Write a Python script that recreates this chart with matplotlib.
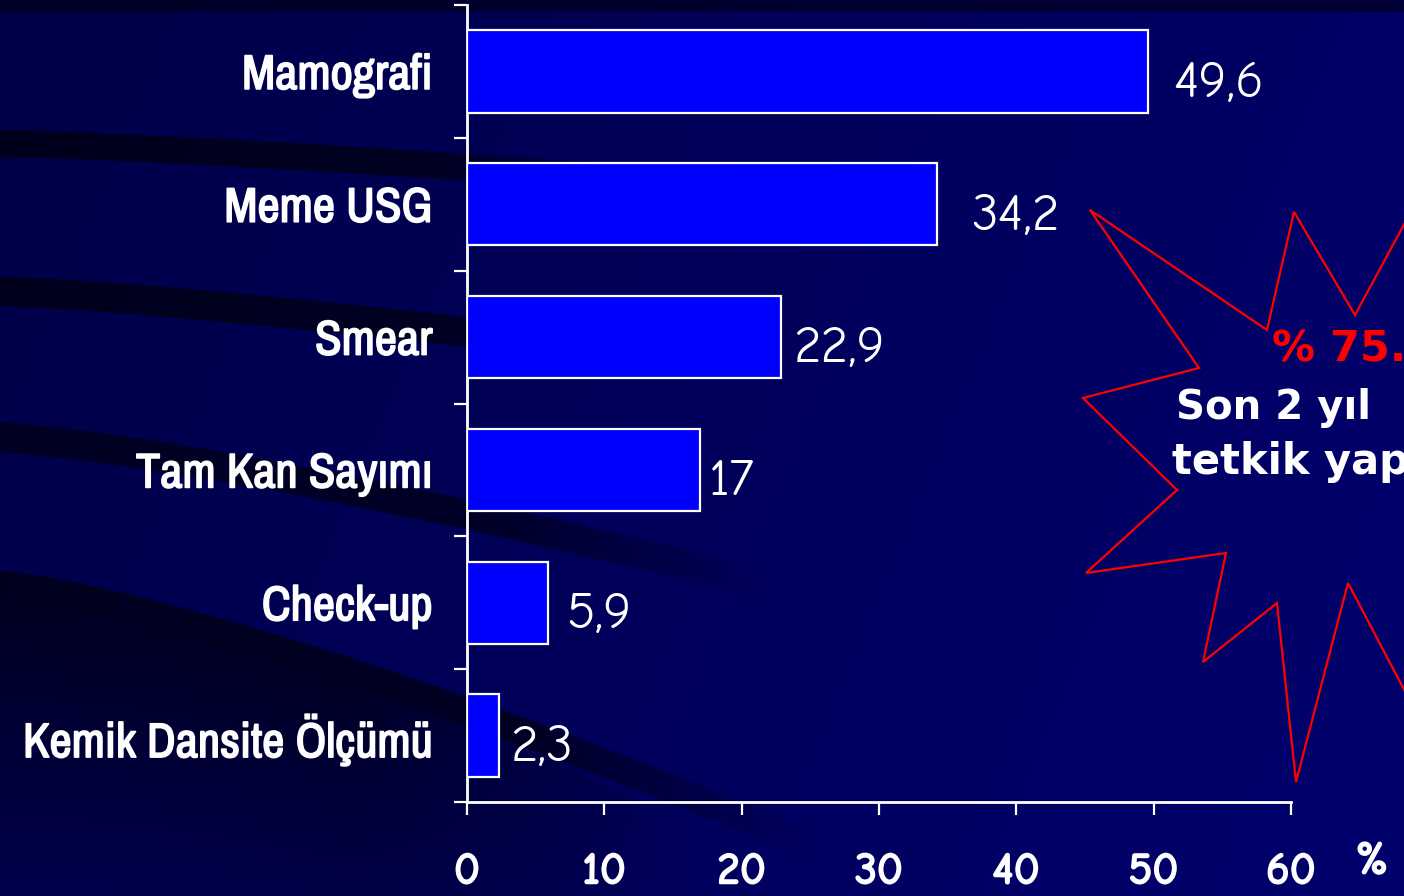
import numpy as np
import matplotlib
matplotlib.use("Agg")
import matplotlib.pyplot as plt
import matplotlib.patheffects as pe
from matplotlib.patches import Polygon

# survey results: share of women who had each test (%)
categories = ["Mamografi", "Meme USG", "Smear", "Tam Kan Sayımı",
              "Check-up", "Kemik Dansite Ölçümü"]
values = [49.6, 34.2, 22.9, 17, 5.9, 2.3]
xticks = [0, 10, 20, 30, 40, 50, 60]

# horizontal nudge of each value label, in points
label_nudge = [18, 25, 9, 6, 13, 9]

# burst outline, figure pixels (x right, y down)
star_px = [(1090, 210), (1267, 330), (1294, 212), (1355, 315), (1420, 195),
           (1440, 450), (1420, 720), (1348, 583), (1296, 782), (1277, 603),
           (1203, 662), (1226, 553), (1086, 573), (1177, 490), (1083, 398),
           (1199, 368)]

W, H = 1404, 896
narrow = ["Archivo Narrow", "Roboto Condensed", "DejaVu Sans"]
round_font = ["Comic Neue", "Open Sans", "DejaVu Sans"]
heavy = ["DejaVu Sans"]


def fatten(w):
    # thicken glyphs a little, the fonts here have no bold face
    return [pe.withStroke(linewidth=w, foreground="white")]


fig = plt.figure(figsize=(W / 100, H / 100), dpi=100)

# background: navy gradient with dark swooshes
X, Y = np.meshgrid(np.arange(W), np.arange(H))
base = 72 + 30 * (X / W) + 8 * (Y / H)
dark = np.zeros_like(base, dtype=float)


def swoosh(y0, y1, thick, fade_at, fade_len, depth):
    c = y0 + (y1 - y0) * (X / 470.0) ** 1.3
    m = np.clip(thick / 2 - np.abs(Y - c) + 1, 0, 1)
    f = np.clip(1 - (X - fade_at) / fade_len, 0, 1)
    return m * f * depth


dark = np.maximum(dark, np.where(Y < 12, 0.45, 0))
dark = np.maximum(dark, swoosh(143, 167, 26, 420, 250, 0.6))
dark = np.maximum(dark, swoosh(291, 332, 29, 440, 250, 0.6))
dark = np.maximum(dark, swoosh(437, 515, 29, 480, 300, 0.55))
dark = np.maximum(dark, swoosh(585, 713, 29, 520, 300, 0.6))
# wide dark wedge running toward the lower middle
ctop = 600 + 128 * (X / 470.0) ** 1.4
below = Y - ctop
wedge = np.where(below > 0, np.clip(1 - below / 320, 0, 1), 0)
wedge *= np.clip(1 - (X - 350) / 350, 0, 1)
dark = np.maximum(dark, wedge * 0.55)
blue = base * (1 - dark)
img = np.zeros((H, W, 3))
img[..., 2] = blue / 255.0

bg = fig.add_axes([0, 0, 1, 1], zorder=-1)
bg.imshow(img, aspect="auto", interpolation="bilinear")
bg.axis("off")

ax = fig.add_axes([467 / W, 1 - 802 / H, (1291 - 467) / W, (802 - 5) / H])
ax.patch.set_alpha(0)

y = np.arange(len(categories))
ax.barh(y, values, height=0.62, color="#0000FF", edgecolor="white",
        linewidth=1.6, zorder=3)
ax.set_xlim(0, 60)
ax.set_ylim(len(categories) - 0.5, -0.5)

for sp in ["top", "right"]:
    ax.spines[sp].set_visible(False)
for sp in ["left", "bottom"]:
    ax.spines[sp].set_color("white")
    ax.spines[sp].set_linewidth(2)

ax.set_yticks(np.arange(-0.5, len(categories)), labels=[])
ax.set_yticks(y, labels=categories, minor=True)
ax.tick_params(axis="y", which="major", direction="out", length=9.5,
               width=1.6, color="white")
ax.tick_params(axis="y", which="minor", length=0, pad=25, labelcolor="white")
for lab in ax.get_yticklabels(minor=True):
    lab.set_fontfamily(narrow)
    lab.set_fontsize(35)
    lab.set_path_effects(fatten(1.2))

ax.set_xticks(xticks, labels=[str(t) for t in xticks])
ax.tick_params(axis="x", direction="out", length=9.5, width=1.6,
               color="white", labelcolor="white", pad=28)
for lab in ax.get_xticklabels():
    lab.set_fontfamily(round_font)
    lab.set_fontsize(31)
    lab.set_path_effects(fatten(1.7))

for i, v in enumerate(values):
    txt = f"{v:g}".replace(".", ",")
    ax.annotate(txt, xy=(v, i), xytext=(label_nudge[i], -9),
                textcoords="offset points", ha="left", va="center",
                color="white", fontsize=38, family=round_font)

fig.text(1372 / W, 1 - 862 / H, "%", color="white", fontsize=32,
         family=round_font, ha="center", va="center",
         path_effects=fatten(1.7))

star = Polygon([(x / W, 1 - yy / H) for x, yy in star_px], closed=True,
               fill=False, edgecolor="#FF0000", linewidth=1.6,
               transform=fig.transFigure)
fig.add_artist(star)

fig.text(1272 / W, 1 - 349 / H, "% 75.", color="#FF0000", fontsize=31,
         fontweight="bold", family=heavy, ha="left", va="center")
fig.text(1176 / W, 1 - 408 / H, "Son 2 yıl", color="white", fontsize=29,
         fontweight="bold", family=heavy, ha="left", va="center")
fig.text(1172 / W, 1 - 462 / H, "tetkik yap", color="white", fontsize=30,
         fontweight="bold", family=heavy, ha="left", va="center")

fig.savefig("out.png", dpi=100)
